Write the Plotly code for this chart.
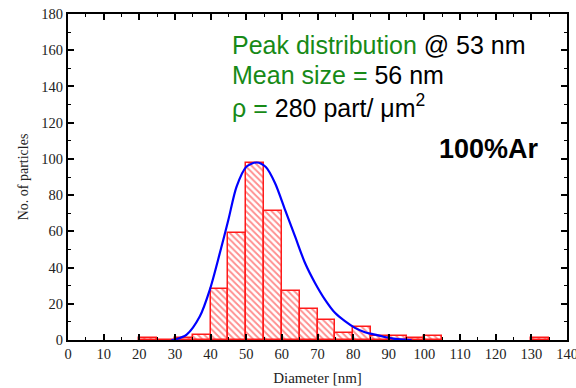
import plotly.graph_objects as go

# Particle size histogram (5 nm bins, left edges) and counts
bin_left = [20, 25, 30, 35, 40, 45, 50, 55, 60, 65, 70, 75, 80, 85, 90, 95, 100, 130]
counts = [1, 0, 1, 3, 28, 59, 98, 71, 27, 17, 11, 4, 7, 2, 2, 1, 2, 1]
bin_width = 5

# Distribution fit curve (diameter, count)
fit_x = [29.0, 30.0, 33.3, 37.0, 39.8, 42.6, 45.0, 47.3, 50.1, 52.9, 55.5, 58.1,
         60.9, 63.7, 66.5, 69.3, 72.1, 74.9, 77.7, 80.5, 83.3, 86.1, 88.5, 91.3, 96.4]
fit_y = [0.0, 0.3, 3.0, 13.1, 27.8, 48.0, 66.4, 84.7, 95.8, 98.0, 95.5, 86.6,
         71.9, 57.2, 42.5, 31.5, 22.3, 15.0, 10.4, 6.7, 4.3, 3.0, 1.8, 0.8, 0.0]

x_ticks = list(range(0, 141, 10))
y_ticks = list(range(0, 181, 20))

GREEN = "#178a17"
serif = "Liberation Serif, Times New Roman, serif"
sans = "Liberation Sans, Arial, sans-serif"

fig = go.Figure()

fig.add_trace(go.Bar(
    x=[b + bin_width / 2 for b in bin_left],
    y=counts,
    width=bin_width,
    marker=dict(
        color="white",
        line=dict(color="#ff1a1a", width=1.5),
        pattern=dict(shape="\\", fgcolor="#ff1a1a", bgcolor="white",
                     size=4.5, solidity=0.4),
    ),
    showlegend=False,
))

fig.add_trace(go.Scatter(
    x=fit_x, y=fit_y, mode="lines",
    line=dict(color="#0000ff", width=2.2, shape="spline", smoothing=0.8),
    showlegend=False,
))

axis_common = dict(
    showline=True, linecolor="black", linewidth=2, mirror="ticks",
    ticks="inside", ticklen=6, tickwidth=1.5, tickcolor="black",
    showgrid=False, zeroline=False, automargin=False,
    ticklabeloverflow="allow",
    tickfont=dict(family=serif, size=14.5, color="#222"),
)

fig.update_xaxes(
    range=[0, 140], tickvals=x_ticks,
    minor=dict(ticks="inside", ticklen=3, tickwidth=1.2, dtick=5, tickcolor="black"),
    title=dict(text="Diameter [nm]", font=dict(family=serif, size=15, color="#222"), standoff=11),
    **axis_common,
)
fig.update_yaxes(
    range=[0, 180], tickvals=y_ticks,
    minor=dict(ticks="inside", ticklen=3, tickwidth=1.2, dtick=10, tickcolor="black"),
    title=dict(text="No. of particles", font=dict(family=serif, size=14, color="#222"), standoff=9),
    **axis_common,
)

ann_font = dict(family=sans, size=25, color="black")
lines = [
    (f"<span style='color:{GREEN}'>Peak distribution</span> @ 53 nm", 45),
    (f"<span style='color:{GREEN}'>Mean size =</span> 56 nm", 75),
    (f"<span style='color:{GREEN}'>ρ =</span> 280 part/ μm<sup>2</sup>", 106),
]
for text, ypx in lines:
    fig.add_annotation(
        text=text, xref="paper", yref="paper",
        x=(230 - 68) / (567 - 68), y=(340.5 - ypx) / 326.5,
        xanchor="left", yanchor="middle", showarrow=False, font=ann_font,
    )
fig.add_annotation(
    text="<b>100%Ar</b>", xref="paper", yref="paper",
    x=(541 - 68) / (567 - 68), y=(340.5 - 149) / 326.5,
    xanchor="right", yanchor="middle", showarrow=False,
    font=dict(family=sans, size=27, color="black"),
)

fig.update_layout(
    width=576, height=388,
    margin=dict(l=68, r=9, t=14, b=47.5),
    paper_bgcolor="white", plot_bgcolor="white",
    bargap=0,
)

fig.write_html("out.html")
